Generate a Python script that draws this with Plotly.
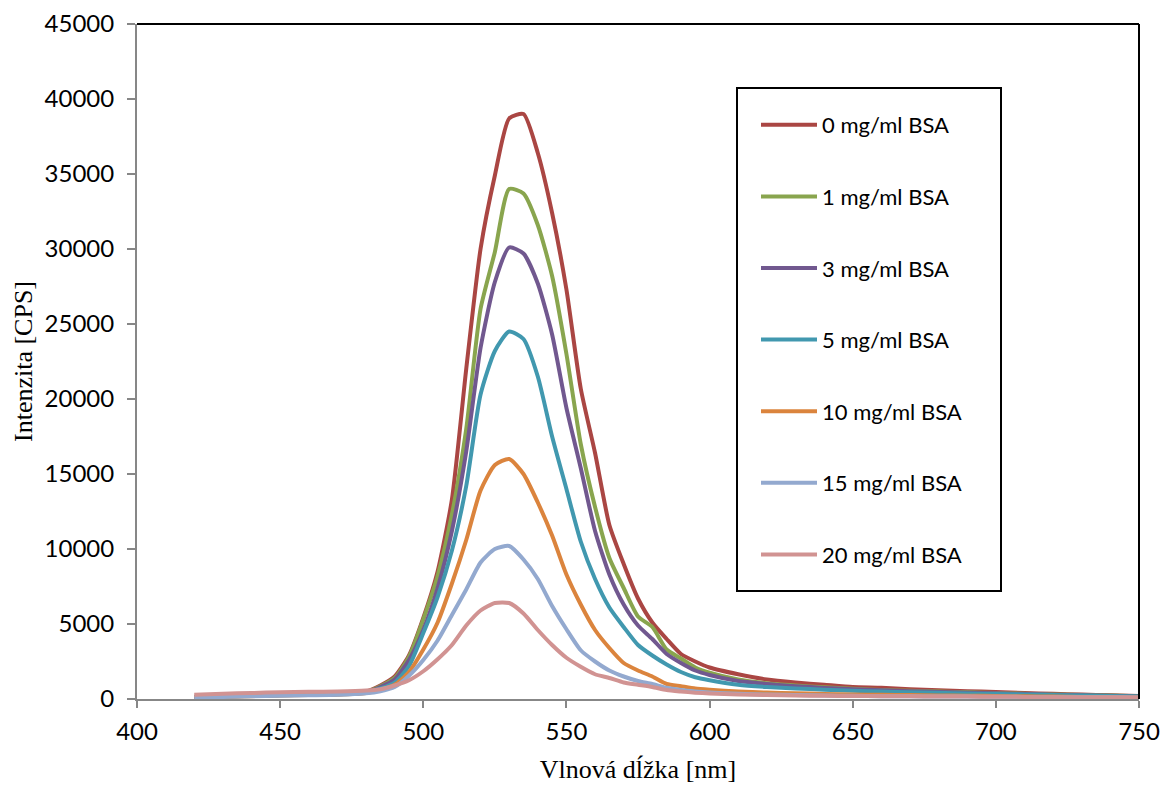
import plotly.graph_objects as go

# Wavelength grid [nm]
wavelength = [420, 430, 440, 450, 460, 470, 480,
              485, 490, 495, 500, 505, 510, 515, 520, 525, 530, 535, 540, 545, 550,
              555, 560, 565, 570, 575, 580, 585, 590, 595, 600,
              610, 620, 630, 640, 650, 660, 670, 680, 690, 700, 710, 720, 730, 740, 750]

series_names = ["0 mg/ml BSA", "1 mg/ml BSA", "3 mg/ml BSA", "5 mg/ml BSA",
                "10 mg/ml BSA", "15 mg/ml BSA", "20 mg/ml BSA"]

bsa_0 = [150, 200, 250, 300, 320, 350, 500,
         900, 1500, 2900, 5400, 8500, 13300, 22000, 30000, 34900, 38700, 39000, 36400, 32400, 27300,
         20700, 16400, 11600, 9000, 6700, 5100, 4000, 3000, 2500, 2100,
         1650, 1300, 1100, 950, 800, 750, 650, 580, 520, 470, 400, 350, 300, 250, 200]
bsa_1 = [130, 180, 220, 270, 300, 330, 480,
         850, 1400, 2800, 5300, 8200, 12300, 18000, 26000, 29800, 34000, 33700, 31600, 28200, 23000,
         17000, 12800, 9400, 7400, 5500, 4800, 3300, 2700, 2100, 1750,
         1300, 1050, 900, 780, 680, 600, 550, 500, 450, 400, 350, 300, 270, 230, 180]
bsa_3 = [120, 170, 210, 260, 290, 320, 450,
         800, 1300, 2600, 4600, 7400, 11200, 16500, 23400, 27800, 30100, 29700, 27700, 24300, 19400,
         15400, 11200, 8300, 6300, 4900, 4000, 3000, 2400, 1900, 1600,
         1200, 1000, 850, 740, 650, 580, 520, 470, 420, 380, 330, 290, 250, 210, 170]
bsa_5 = [110, 160, 200, 250, 280, 310, 430,
         700, 1100, 2200, 4400, 6800, 9900, 14200, 20300, 23200, 24500, 24000, 21500, 17500, 14000,
         10500, 8000, 6100, 4800, 3600, 2900, 2300, 1800, 1450, 1250,
         950, 800, 700, 620, 550, 500, 450, 410, 370, 340, 300, 260, 230, 200, 160]
bsa_10 = [100, 150, 190, 240, 270, 300, 400,
          600, 950, 1800, 3300, 5100, 7700, 10600, 13900, 15600, 16000, 15000, 13100, 10900, 8300,
          6300, 4600, 3400, 2400, 1900, 1500, 1000, 850, 700, 620,
          500, 430, 380, 340, 300, 280, 260, 240, 220, 200, 180, 160, 140, 120, 100]
bsa_15 = [100, 140, 180, 220, 250, 280, 380,
          520, 800, 1550, 2600, 3900, 5600, 7300, 9100, 10000, 10200, 9300, 8000, 6200, 4650,
          3250, 2500, 1900, 1500, 1200, 1000, 750, 600, 500, 430,
          350, 300, 260, 230, 210, 190, 180, 170, 160, 150, 140, 130, 120, 110, 100]
bsa_20 = [280, 350, 400, 450, 480, 500, 560,
          650, 900, 1250, 1850, 2650, 3600, 4900, 5900, 6400, 6400, 5700, 4600, 3600, 2750,
          2150, 1650, 1400, 1100, 950, 800, 600, 500, 420, 370,
          300, 260, 230, 210, 200, 190, 180, 170, 160, 150, 140, 130, 120, 110, 100]

series_values = [bsa_0, bsa_1, bsa_3, bsa_5, bsa_10, bsa_15, bsa_20]
colors = ["#AA4643", "#89A54E", "#71588F", "#4198AF", "#DB843D", "#93A9CF", "#D19392"]

x_ticks = [400, 450, 500, 550, 600, 650, 700, 750]
y_ticks = [0, 5000, 10000, 15000, 20000, 25000, 30000, 35000, 40000, 45000]

fig = go.Figure()
for i, (name, vals, col) in enumerate(zip(series_names, series_values, colors)):
    fig.add_trace(go.Scatter(
        x=wavelength, y=vals, mode="lines", name=name,
        line=dict(color=col, width=4, shape="spline", smoothing=0.6),
        legendgroup=f"g{i}",
    ))

axis_gray = "#878787"
tick_font = dict(family="Lato, 'Open Sans', sans-serif", size=24, color="black")
title_font = dict(family="'Liberation Serif', 'Times New Roman', serif", size=26, color="black")

fig.update_layout(
    width=1164, height=785,
    margin=dict(l=137, r=25, t=24, b=86),
    plot_bgcolor="white", paper_bgcolor="white",
    xaxis=dict(
        range=[400, 750], tickvals=x_ticks, showgrid=False, zeroline=False,
        showline=True, linecolor=axis_gray, linewidth=2, automargin=False,
        ticks="outside", ticklen=7, tickwidth=2, tickcolor=axis_gray,
        tickfont=tick_font, ticklabelstandoff=3,
        title=dict(text="Vlnová dĺžka [nm]", font=title_font, standoff=16),
    ),
    yaxis=dict(
        range=[0, 45000], tickvals=y_ticks, tickformat="d", showgrid=False, zeroline=False,
        showline=True, linecolor=axis_gray, linewidth=2, automargin=False,
        ticks="outside", ticklen=8, tickwidth=2, tickcolor=axis_gray,
        tickfont=tick_font, ticklabelstandoff=8,
        title=dict(text="Intenzita [CPS]", font=title_font, standoff=4),
    ),
    legend=dict(
        x=(756 - 137) / 1002, y=(699 - 104) / 675, xanchor="left", yanchor="top",
        font=dict(family="Lato, 'Open Sans', sans-serif", size=22, color="black"),
        bgcolor="rgba(0,0,0,0)", borderwidth=0,
        traceorder="grouped", tracegroupgap=40, itemwidth=56,
    ),
    shapes=[
        dict(type="line", xref="paper", yref="paper", x0=0, x1=1, y0=1, y1=1,
             line=dict(color="black", width=2)),
        dict(type="line", xref="paper", yref="paper", x0=1, x1=1, y0=0, y1=1,
             line=dict(color="black", width=2)),
        dict(type="rect", xref="paper", yref="paper",
             x0=(737 - 137) / 1002, x1=(1001 - 137) / 1002,
             y0=(699 - 591) / 675, y1=(699 - 88) / 675,
             line=dict(color="black", width=2), fillcolor="rgba(0,0,0,0)"),
    ],
)

fig.write_html("out.html", config={"displayModeBar": False},
               post_script="document.body.style.margin='0';")
